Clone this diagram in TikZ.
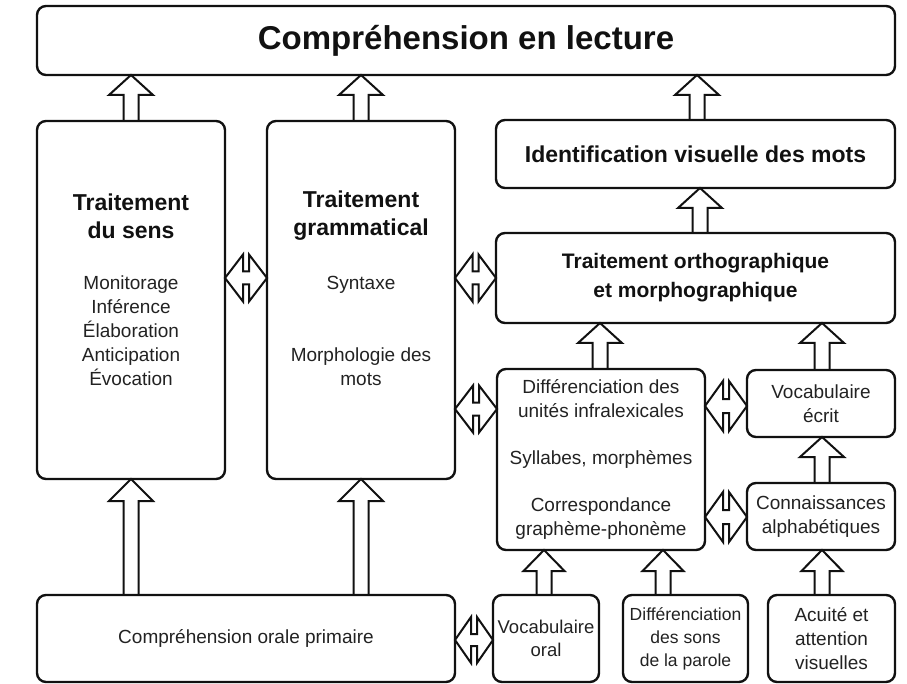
\documentclass[tikz,border=0pt]{standalone}
\usepackage{fontspec}
\setmainfont{Liberation Sans}
\usetikzlibrary{calc}
\definecolor{lectInk}{HTML}{111111}
\definecolor{lectGrey}{HTML}{222222}

\begin{document}
\begin{tikzpicture}[
    x=1pt, y=-1pt,
    lect box/.style={draw=lectInk, line width=2.4pt, rounded corners=9pt, inner sep=0pt, outer sep=0pt,
      align=center, text=lectGrey, font=\fontsize{19}{24}\selectfont},
    lect head/.style={text=lectInk, font=\bfseries\fontsize{23}{28}\selectfont},
    lect text/.style={align=center, inner sep=0pt, text=lectGrey, font=\fontsize{19}{24}\selectfont},
    lect arrow/.style={draw=lectInk, line width=2pt, line join=miter},
]
  \useasboundingbox (0,0) rectangle (907,684);

  % Colonnes des flèches verticales.
  \coordinate (k-sens) at (131,0);
  \coordinate (k-gram) at (361,0);
  \coordinate (k-ident) at (697,0);
  \coordinate (k-ortho) at (700,0);
  \coordinate (k-diffu) at (600,0);
  \coordinate (k-alpha) at (822,0);
  \coordinate (k-vocor) at (544,0);
  \coordinate (k-sons) at (663,0);

  % Lignes des flèches doubles.
  \coordinate (r-haut) at (0,278);
  \coordinate (r-milieu) at (0,409);
  \coordinate (r-ecrit) at (0,406);
  \coordinate (r-alpha) at (0,517);
  \coordinate (r-oral) at (0,640);

  % Boîtes.
  \node[lect box, minimum width=858, minimum height=69, lect head, font=\bfseries\fontsize{33}{40}\selectfont] (top) at (466,40.5) {Compréhension en lecture};
  \node[lect box, minimum width=188, minimum height=358] (sens) at (131,300) {};
  \node[lect box, minimum width=188, minimum height=358] (gram) at (361,300) {};
  \node[lect box, minimum width=399, minimum height=68, lect head] (ident) at (695.5,154) {Identification visuelle des mots};
  \node[lect box, minimum width=399, minimum height=90, lect head, font=\bfseries\fontsize{21}{29}\selectfont] (ortho) at (695.5,278) {Traitement orthographique\\et morphographique};
  \node[lect box, minimum width=208, minimum height=181] (diffu) at (601,459.5) {Différenciation des\\unités infralexicales\\[23pt]Syllabes, morphèmes\\[23pt]Correspondance\\graphème-phonème};
  \node[lect box, minimum width=148, minimum height=67] (vocecr) at (821,403.5) {Vocabulaire\\écrit};
  \node[lect box, minimum width=148, minimum height=67] (connal) at (821,516.5) {Connaissances\\alphabétiques};
  \node[lect box, minimum width=418, minimum height=87] (orale) at (246,638.5) {Compréhension orale primaire};
  \node[lect box, minimum width=106, minimum height=87, font=\fontsize{18.5}{23}\selectfont] (vocor) at (546,638.5) {Vocabulaire\\oral};
  \node[lect box, minimum width=125, minimum height=87, font=\fontsize{17.5}{23}\selectfont] (diffsons) at (685.5,638.5) {Différenciation\\des sons\\de la parole};
  \node[lect box, minimum width=127, minimum height=87] (acuite) at (831.5,638.5) {Acuité et\\attention\\visuelles};

  % Textes des grandes boîtes.
  \node[lect head, align=center, inner sep=0pt] (sens-titre) at (131,216) {Traitement\\du sens};
  \node[lect text] (sens-liste) at (131,331) {Monitorage\\Inférence\\Élaboration\\Anticipation\\Évocation};
  \node[lect head, align=center, inner sep=0pt] (gram-titre) at (361,216) {Traitement\\grammatical};
  \node[lect text] (gram-liste) at (361,331) {Syntaxe\\[48pt]Morphologie des\\mots};

  % Flèches vers le haut.
  \draw[lect arrow] ($(sens.north -| k-sens)+(-7.5,0)$) -- ($(top.south -| k-sens)+(-7.5,20)$) -- ++(-14.5,0) -- (top.south -| k-sens) -- ++(22,20) -- ++(-14.5,0) -- ($(sens.north -| k-sens)+(7.5,0)$);
  \draw[lect arrow] ($(gram.north -| k-gram)+(-7.5,0)$) -- ($(top.south -| k-gram)+(-7.5,20)$) -- ++(-14.5,0) -- (top.south -| k-gram) -- ++(22,20) -- ++(-14.5,0) -- ($(gram.north -| k-gram)+(7.5,0)$);
  \draw[lect arrow] ($(ident.north -| k-ident)+(-7.5,0)$) -- ($(top.south -| k-ident)+(-7.5,20)$) -- ++(-14.5,0) -- (top.south -| k-ident) -- ++(22,20) -- ++(-14.5,0) -- ($(ident.north -| k-ident)+(7.5,0)$);
  \draw[lect arrow] ($(ortho.north -| k-ortho)+(-7.5,0)$) -- ($(ident.south -| k-ortho)+(-7.5,20)$) -- ++(-14.5,0) -- (ident.south -| k-ortho) -- ++(22,20) -- ++(-14.5,0) -- ($(ortho.north -| k-ortho)+(7.5,0)$);
  \draw[lect arrow] ($(diffu.north -| k-diffu)+(-7.5,0)$) -- ($(ortho.south -| k-diffu)+(-7.5,20)$) -- ++(-14.5,0) -- (ortho.south -| k-diffu) -- ++(22,20) -- ++(-14.5,0) -- ($(diffu.north -| k-diffu)+(7.5,0)$);
  \draw[lect arrow] ($(vocecr.north -| k-alpha)+(-7.5,0)$) -- ($(ortho.south -| k-alpha)+(-7.5,20)$) -- ++(-14.5,0) -- (ortho.south -| k-alpha) -- ++(22,20) -- ++(-14.5,0) -- ($(vocecr.north -| k-alpha)+(7.5,0)$);
  \draw[lect arrow] ($(connal.north -| k-alpha)+(-7.5,0)$) -- ($(vocecr.south -| k-alpha)+(-7.5,20)$) -- ++(-14.5,0) -- (vocecr.south -| k-alpha) -- ++(22,20) -- ++(-14.5,0) -- ($(connal.north -| k-alpha)+(7.5,0)$);
  \draw[lect arrow] ($(orale.north -| k-sens)+(-7.5,0)$) -- ($(sens.south -| k-sens)+(-7.5,22)$) -- ++(-14.5,0) -- (sens.south -| k-sens) -- ++(22,22) -- ++(-14.5,0) -- ($(orale.north -| k-sens)+(7.5,0)$);
  \draw[lect arrow] ($(orale.north -| k-gram)+(-7.5,0)$) -- ($(gram.south -| k-gram)+(-7.5,22)$) -- ++(-14.5,0) -- (gram.south -| k-gram) -- ++(22,22) -- ++(-14.5,0) -- ($(orale.north -| k-gram)+(7.5,0)$);
  \draw[lect arrow] ($(vocor.north -| k-vocor)+(-7.5,0)$) -- ($(diffu.south -| k-vocor)+(-7.5,21)$) -- ++(-13,0) -- (diffu.south -| k-vocor) -- ++(20.5,21) -- ++(-13,0) -- ($(vocor.north -| k-vocor)+(7.5,0)$);
  \draw[lect arrow] ($(diffsons.north -| k-sons)+(-7.5,0)$) -- ($(diffu.south -| k-sons)+(-7.5,21)$) -- ++(-13,0) -- (diffu.south -| k-sons) -- ++(20.5,21) -- ++(-13,0) -- ($(diffsons.north -| k-sons)+(7.5,0)$);
  \draw[lect arrow] ($(acuite.north -| k-alpha)+(-7.5,0)$) -- ($(connal.south -| k-alpha)+(-7.5,21)$) -- ++(-13,0) -- (connal.south -| k-alpha) -- ++(20.5,21) -- ++(-13,0) -- ($(acuite.north -| k-alpha)+(7.5,0)$);

  % Flèches doubles.
  \draw[lect arrow] (sens.east |- r-haut) -- ++(18,-23.5) -- ++(0,17) -- ++(6,0) -- ++(0,-17) -- (gram.west |- r-haut) -- ++(-18,23.5) -- ++(0,-17) -- ++(-6,0) -- ++(0,17) -- cycle;
  \draw[lect arrow] (gram.east |- r-haut) -- ++(17.5,-23.5) -- ++(0,17) -- ++(6,0) -- ++(0,-17) -- (ortho.west |- r-haut) -- ++(-17.5,23.5) -- ++(0,-17) -- ++(-6,0) -- ++(0,17) -- cycle;
  \draw[lect arrow] (gram.east |- r-milieu) -- ++(18,-23.5) -- ++(0,17) -- ++(6,0) -- ++(0,-17) -- (diffu.west |- r-milieu) -- ++(-18,23.5) -- ++(0,-17) -- ++(-6,0) -- ++(0,17) -- cycle;
  \draw[lect arrow] (diffu.east |- r-ecrit) -- ++(18,-25) -- ++(0,18) -- ++(6,0) -- ++(0,-18) -- (vocecr.west |- r-ecrit) -- ++(-18,25) -- ++(0,-18) -- ++(-6,0) -- ++(0,18) -- cycle;
  \draw[lect arrow] (diffu.east |- r-alpha) -- ++(18,-25) -- ++(0,18) -- ++(6,0) -- ++(0,-18) -- (connal.west |- r-alpha) -- ++(-18,25) -- ++(0,-18) -- ++(-6,0) -- ++(0,18) -- cycle;
  \draw[lect arrow] (orale.east |- r-oral) -- ++(16,-23) -- ++(0,17) -- ++(6,0) -- ++(0,-17) -- (vocor.west |- r-oral) -- ++(-16,23) -- ++(0,-17) -- ++(-6,0) -- ++(0,17) -- cycle;
\end{tikzpicture}
\end{document}
